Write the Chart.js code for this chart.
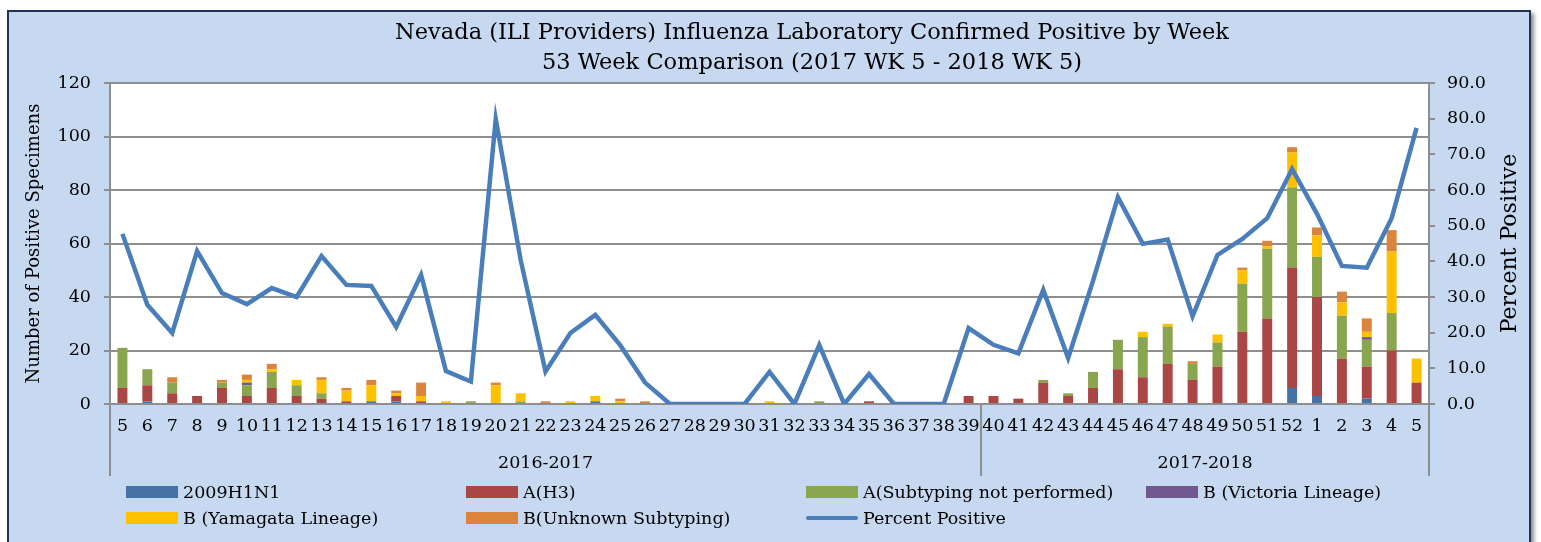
<!DOCTYPE html>
<html>
<head>
<meta charset="utf-8">
<script src="https://cdn.jsdelivr.net/npm/chart.js@4.4.1/dist/chart.umd.min.js"></script>
<style>
  html, body { margin:0; padding:0; background:#ffffff; }
  body { width:1541px; height:542px; overflow:hidden; position:relative; font-family:"DejaVu Serif", serif; }
  #frame { position:absolute; left:7px; top:10px; width:1520px; height:560px; background:#c6d9f1;
           border:2px solid #1f3553; box-shadow:3px 3px 4px rgba(0,0,0,0.45); }
  #c { position:absolute; left:0; top:0; }
  .lg { position:absolute; height:20px; display:flex; align-items:center; font-size:17.5px; color:#000; white-space:nowrap; }
  .sw { width:52px; height:12px; margin-right:5px; flex:none; }
  .ln { width:52px; height:4px; margin:4px 5px 4px 0; border-radius:2px; flex:none; }
</style>
</head>
<body>
<div id="frame"></div>
<canvas id="c" width="1541" height="542"></canvas>
<div id="legend"></div>
<script>
// ---- data ----
const weeks = ['5','6','7','8','9','10','11','12','13','14','15','16','17','18','19','20','21','22','23','24','25','26','27','28','29','30','31','32','33','34','35','36','37','38','39','40','41','42','43','44','45','46','47','48','49','50','51','52','1','2','3','4','5'];
const seasons = ['2016-2017', '2017-2018'];
const seasonStartIndex = [0, 35];

const h1n1     = [0,1,0,0,0,0,0,0,0,0,1,1,0,0,0,0,0,0,0,1,0,0,0,0,0,0,0,0,0,0,0,0,0,0,0,0,0,0,0,0,0,0,0,0,0,0,0,6,3,0,2,0,0];
const h3       = [6,6,4,3,6,3,6,3,2,1,0,2,1,0,0,0,0,0,0,0,0,0,0,0,0,0,0,0,0,0,1,0,0,0,3,3,2,8,3,6,13,10,15,9,14,27,32,45,37,17,12,20,8];
const aNotSub  = [15,6,4,0,2,4,6,4,2,0,0,0,0,0,1,0,1,0,0,0,0,0,0,0,0,0,0,0,1,0,0,0,0,0,0,0,0,1,1,6,11,15,14,6,9,18,26,30,15,16,10,14,0];
const bVic     = [0,0,0,0,0,1,0,0,0,0,0,0,0,0,0,0,0,0,0,0,0,0,0,0,0,0,0,0,0,0,0,0,0,0,0,0,0,0,0,0,0,0,0,0,0,0,0,0,0,0,1,0,0];
const bYam     = [0,0,0,0,0,1,1,2,5,4,6,1,2,1,0,7,3,0,1,2,1,0,0,0,0,0,1,0,0,0,0,0,0,0,0,0,0,0,0,0,0,2,1,0,3,5,1,13,8,5,2,23,9];
const bUnk     = [0,0,2,0,1,2,2,0,1,1,2,1,5,0,0,1,0,1,0,0,1,1,0,0,0,0,0,0,0,0,0,0,0,0,0,0,0,0,0,0,0,0,0,1,0,1,2,2,3,4,5,8,0];
const pctPos   = [47.7,27.8,19.9,42.9,31.1,28.0,32.5,30.0,41.5,33.4,33.1,21.6,36.2,9.2,6.3,79.9,40.4,9.1,19.9,25.0,16.5,6.0,0,0,0,0,9.0,0,16.5,0,8.4,0,0,0,21.3,16.6,14.2,32.0,12.9,34.5,58.0,44.9,46.1,24.6,41.8,46.3,52.1,65.9,53.3,38.7,38.2,52.1,77.4];

const leftTicks = { min:0, max:120, step:20 };
const rightTicks = { min:0, max:90, step:10 };

const titleLines = ['Nevada (ILI Providers) Influenza Laboratory Confirmed Positive by Week', '53 Week Comparison (2017 WK 5 - 2018 WK 5)'];
const leftTitle = 'Number of Positive Specimens';
const rightTitle = 'Percent Positive';

const colors = {
  h1n1:'#4572a7', h3:'#aa4643', aNot:'#89a54e', vic:'#71588f', yam:'#ffc000', unk:'#db843d', line:'#4a7ebb'
};

const FONT = '"DejaVu Serif", serif';
const GRID = '#8e8e8e';

const barDs = (label, data, color) => ({
  type:'bar', label, data, backgroundColor:color, borderWidth:0, stack:'s', yAxisID:'y', order:2,
  categoryPercentage:0.8, barPercentage:0.5
});

const plotBg = {
  id:'plotBg',
  beforeDraw(chart) {
    const {ctx, chartArea:a} = chart;
    ctx.save(); ctx.fillStyle = '#ffffff';
    ctx.fillRect(a.left, a.top, a.right - a.left, a.bottom - a.top);
    ctx.restore();
  }
};

const extras = {
  id:'extras',
  afterDraw(chart) {
    const {ctx, chartArea:a} = chart;
    const x = chart.scales.x;
    const y1 = chart.scales.y1;
    ctx.save();
    // chart title (Excel places it slightly right of centre)
    ctx.fillStyle = '#000'; ctx.textAlign = 'center'; ctx.textBaseline = 'middle';
    ctx.font = '22.5px ' + FONT;
    titleLines.forEach((t, i) => ctx.fillText(t, 812, 33 + i * 30));
    // group separators and labels
    const bounds = [];
    seasonStartIndex.forEach((s) => {
      const edge = s === 0 ? a.left : (x.getPixelForValue(s - 1) + x.getPixelForValue(s)) / 2;
      bounds.push(edge);
    });
    bounds.push(a.right);
    ctx.strokeStyle = GRID; ctx.lineWidth = 2;
    bounds.forEach(b => {
      ctx.beginPath(); ctx.moveTo(b, a.bottom); ctx.lineTo(b, a.bottom + 72); ctx.stroke();
    });
    ctx.font = '17.5px ' + FONT;
    seasons.forEach((s, i) => {
      ctx.fillText(s, (bounds[i] + bounds[i + 1]) / 2, a.bottom + 59);
    });
    // right axis title (reads bottom to top)
    ctx.translate(y1.right - 31, (a.top + a.bottom) / 2);
    ctx.rotate(-Math.PI / 2);
    ctx.font = '22px ' + FONT;
    ctx.fillText(rightTitle, 0, 0);
    ctx.restore();
  }
};

const chart = new Chart(document.getElementById('c'), {
  data: {
    labels: weeks,
    datasets: [
      { type:'line', label:'Percent Positive', data:pctPos, yAxisID:'y1', borderColor:colors.line,
        backgroundColor:colors.line, borderWidth:4.5, pointRadius:0, tension:0, order:0 },
      barDs('2009H1N1', h1n1, colors.h1n1),
      barDs('A(H3)', h3, colors.h3),
      barDs('A(Subtyping not performed)', aNotSub, colors.aNot),
      barDs('B (Victoria Lineage)', bVic, colors.vic),
      barDs('B (Yamagata Lineage)', bYam, colors.yam),
      barDs('B(Unknown Subtyping)', bUnk, colors.unk)
    ]
  },
  options: {
    responsive:false, animation:false, devicePixelRatio:1,
    layout:{ padding:{ top:83, left:0, right:0, bottom:0 } },
    plugins:{
      legend:{ display:false },
      tooltip:{ enabled:false },
      title:{ display:false }
    },
    scales:{
      x:{ stacked:true, offset:true,
          grid:{ display:false, drawTicks:false },
          border:{ display:true, color:GRID, width:2 },
          ticks:{ color:'#000', font:{ family:FONT, size:17.5 }, autoSkip:false, maxRotation:0, minRotation:0, padding:12 },
          afterFit(s){ s.height = 138; } },
      y:{ position:'left', stacked:true, min:leftTicks.min, max:leftTicks.max,
          ticks:{ stepSize:leftTicks.step, color:'#000', font:{ family:FONT, size:17.5 }, padding:13 },
          grid:{ color:GRID, lineWidth:2, tickLength:6, drawTicks:true },
          border:{ color:GRID, width:2 },
          title:{ display:true, text:leftTitle, color:'#000', font:{ family:FONT, size:18 }, padding:{ top:24, bottom:0 } },
          afterFit(s){ s.width = 110; } },
      y1:{ position:'right', min:rightTicks.min, max:rightTicks.max,
           ticks:{ stepSize:rightTicks.step, color:'#000', font:{ family:FONT, size:17.5 }, padding:12,
                   callback:(v) => Number(v).toFixed(1) },
           grid:{ drawOnChartArea:false, color:GRID, lineWidth:2, tickLength:6 },
           border:{ color:GRID, width:2 },
           afterFit(s){ s.width = 112; } }
    }
  },
  plugins:[plotBg, extras]
});

// ---- HTML legend in Excel-like grid ----
const legendItems = [
  { label:'2009H1N1', color:colors.h1n1 },
  { label:'A(H3)', color:colors.h3 },
  { label:'A(Subtyping not performed)', color:colors.aNot },
  { label:'B (Victoria Lineage)', color:colors.vic },
  { label:'B (Yamagata Lineage)', color:colors.yam },
  { label:'B(Unknown Subtyping)', color:colors.unk },
  { label:'Percent Positive', color:colors.line, line:true }
];
const lg = document.getElementById('legend');
legendItems.forEach((it, i) => {
  const col = i % 4, row = Math.floor(i / 4);
  const d = document.createElement('div');
  d.className = 'lg';
  d.style.left = (126 + col * 340) + 'px';
  d.style.top = (482 + row * 26) + 'px';
  const sw = document.createElement('span');
  sw.className = it.line ? 'ln' : 'sw';
  sw.style.background = it.color;
  const t = document.createElement('span');
  t.textContent = it.label;
  d.appendChild(sw); d.appendChild(t);
  lg.appendChild(d);
});
</script>
</body>
</html>
